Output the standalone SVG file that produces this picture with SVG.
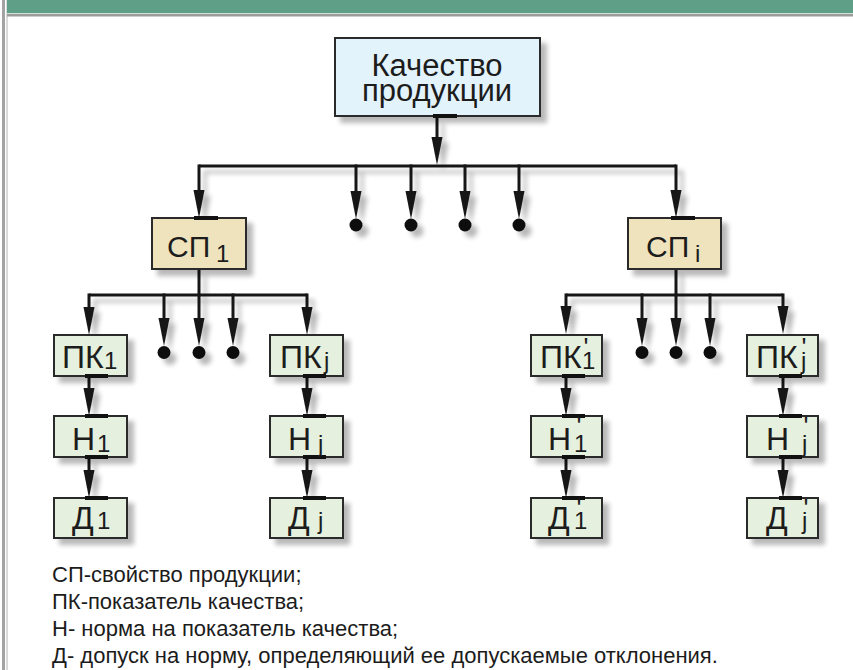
<svg xmlns="http://www.w3.org/2000/svg" width="853" height="670" viewBox="0 0 853 670">
<defs>
<style>
.t{font-family:"Liberation Sans","Noto Sans",Arial,sans-serif;fill:#1c1c1c}
.big{font-size:31px}
.bx{font-size:32px}
.sp{font-size:30px}
.sub{font-size:24px}
.pr{font-size:26px}
.leg{font-size:22px}
.blue{fill:#e3f3fb;stroke:#2b2b2b;stroke-width:2}
.beige{fill:#efe3bd;stroke:#2b2b2b;stroke-width:2}
.green{fill:#e5f1de;stroke:#2b2b2b;stroke-width:2}
.tab{fill:#111}
.ln{fill:none;stroke:#151515;stroke-width:3}
.arr{fill:none;stroke:#151515;stroke-width:3;marker-end:url(#ah)}
.dot{fill:#111}
</style>
<filter id="sh" filterUnits="userSpaceOnUse" x="0" y="0" width="853" height="670">
<feGaussianBlur in="SourceAlpha" stdDeviation="2.5"/>
<feOffset dx="6" dy="6"/>
<feComponentTransfer><feFuncA type="linear" slope="0.28"/></feComponentTransfer>
<feMerge><feMergeNode/><feMergeNode in="SourceGraphic"/></feMerge>
</filter>
<marker id="ah" markerUnits="userSpaceOnUse" markerWidth="28" markerHeight="12" viewBox="0 0 28 12" refX="8" refY="6" orient="auto">
<path d="M0,0.5 L28,6 L0,11.5 Z" fill="#151515"/>
</marker>
</defs>
<rect width="853" height="670" fill="#ffffff"/>
<g id="frame">
<rect x="2" y="0" width="3" height="670" fill="#a3a3a3"/>
<rect x="6.5" y="0" width="1" height="670" fill="#b5b5b5"/>
<rect x="7" y="0" width="846" height="13" fill="#5f9f88"/>
<rect x="7" y="13" width="846" height="1" fill="#d3e0da"/>
<rect x="7" y="14" width="846" height="2.5" fill="#9b9b9b"/>
</g>
<g id="connectors" filter="url(#sh)">
<path class="arr" d="M437,118 V145"/>
<path class="ln" d="M199,166 H676"/>
<path class="arr" d="M199,164.5 V198"/>
<path class="arr" d="M356,164.5 V199"/>
<path class="arr" d="M411,164.5 V199"/>
<path class="arr" d="M465,164.5 V199"/>
<path class="arr" d="M519,164.5 V199"/>
<path class="arr" d="M676,164.5 V198"/>
<circle class="dot" cx="356" cy="225" r="6.5"/>
<circle class="dot" cx="411" cy="225" r="6.5"/>
<circle class="dot" cx="465" cy="225" r="6.5"/>
<circle class="dot" cx="519" cy="225" r="6.5"/>
<path class="ln" d="M89,295 H307"/>
<path class="arr" d="M199,270 V326"/>
<path class="arr" d="M89,293.5 V315"/>
<path class="arr" d="M164,293.5 V326"/>
<path class="arr" d="M233,293.5 V326"/>
<path class="arr" d="M307,293.5 V315"/>
<circle class="dot" cx="164" cy="352.5" r="6.5"/>
<circle class="dot" cx="199" cy="352.5" r="6.5"/>
<circle class="dot" cx="233" cy="352.5" r="6.5"/>
<path class="ln" d="M566,295 H783"/>
<path class="arr" d="M676,269 V326"/>
<path class="arr" d="M566,293.5 V314"/>
<path class="arr" d="M642,293.5 V326"/>
<path class="arr" d="M710,293.5 V326"/>
<path class="arr" d="M783,293.5 V314"/>
<circle class="dot" cx="642" cy="352.5" r="6.5"/>
<circle class="dot" cx="676" cy="352.5" r="6.5"/>
<circle class="dot" cx="710" cy="352.5" r="6.5"/>
<path class="arr" d="M89,376 V396"/>
<path class="arr" d="M307,376 V396"/>
<path class="arr" d="M566,376 V396"/>
<path class="arr" d="M783,376 V396"/>
<path class="arr" d="M89,457 V478"/>
<path class="arr" d="M307,457 V478"/>
<path class="arr" d="M566,457 V478"/>
<path class="arr" d="M783,457 V478"/>
</g>
<g id="quality">
<rect class="blue" x="335" y="38" width="205" height="78" filter="url(#sh)"/>
<rect class="tab" x="433" y="114" width="24" height="4"/>
<text class="t big" x="437" y="76" text-anchor="middle">Качество</text>
<text class="t big" x="437" y="101" text-anchor="middle">продукции</text>
</g>
<g id="sp1">
<rect class="beige" x="152" y="218" width="94" height="51" filter="url(#sh)"/>
<rect class="tab" x="194" y="216" width="24" height="4"/>
<text class="t sp" y="257"><tspan x="167">СП</tspan><tspan class="sub" x="216" dy="5">1</tspan></text>
</g>
<g id="spi">
<rect class="beige" x="628" y="218" width="93" height="51" filter="url(#sh)"/>
<rect class="tab" x="671" y="216" width="24" height="4"/>
<text class="t sp" y="257"><tspan x="646">СП</tspan><tspan class="sub" x="695" dy="5">i</tspan></text>
</g>
<g id="pk1">
<rect class="green" x="54" y="335" width="73" height="41" filter="url(#sh)"/>
<rect class="tab" x="85" y="374" width="23" height="4"/>
<text class="t bx" y="368"><tspan x="62">ПК</tspan><tspan class="sub" x="104" dy="1">1</tspan></text>
</g>
<g id="pkj">
<rect class="green" x="270" y="335" width="73" height="41" filter="url(#sh)"/>
<rect class="tab" x="303" y="374" width="23" height="4"/>
<text class="t bx" y="368"><tspan x="280">ПК</tspan><tspan class="sub" x="324" dy="1">j</tspan></text>
</g>
<g id="pk1p">
<rect class="green" x="531" y="335" width="71" height="41" filter="url(#sh)"/>
<rect class="tab" x="562" y="374" width="23" height="4"/>
<text class="t bx" y="368"><tspan x="540">ПК</tspan><tspan class="sub" x="582" dy="1">1</tspan><tspan class="pr" x="583.5" dy="-13">'</tspan></text>
</g>
<g id="pkjp">
<rect class="green" x="747" y="335" width="71" height="41" filter="url(#sh)"/>
<rect class="tab" x="779" y="374" width="23" height="4"/>
<text class="t bx" y="368"><tspan x="756">ПК</tspan><tspan class="sub" x="801" dy="1">j</tspan><tspan class="pr" x="801.5" dy="-13">'</tspan></text>
</g>
<g id="n1">
<rect class="green" x="54" y="416" width="73" height="41" filter="url(#sh)"/>
<rect class="tab" x="85" y="414" width="23" height="4"/>
<rect class="tab" x="85" y="455" width="23" height="4"/>
<text class="t bx" y="450"><tspan x="72">Н</tspan><tspan class="sub" x="97" dy="2">1</tspan></text>
</g>
<g id="nj">
<rect class="green" x="270" y="416" width="73" height="41" filter="url(#sh)"/>
<rect class="tab" x="303" y="414" width="23" height="4"/>
<rect class="tab" x="303" y="455" width="23" height="4"/>
<text class="t bx" y="450"><tspan x="288">Н</tspan><tspan class="sub" x="318" dy="2">j</tspan></text>
</g>
<g id="n1p">
<rect class="green" x="531" y="416" width="71" height="41" filter="url(#sh)"/>
<rect class="tab" x="562" y="414" width="23" height="4"/>
<rect class="tab" x="562" y="455" width="23" height="4"/>
<text class="t bx" y="450"><tspan x="548">Н</tspan><tspan class="sub" x="574" dy="2">1</tspan><tspan class="pr" x="576.5" dy="-17">'</tspan></text>
</g>
<g id="njp">
<rect class="green" x="747" y="416" width="71" height="41" filter="url(#sh)"/>
<rect class="tab" x="779" y="414" width="23" height="4"/>
<rect class="tab" x="779" y="455" width="23" height="4"/>
<text class="t bx" y="450"><tspan x="766">Н</tspan><tspan class="sub" x="802" dy="2">j</tspan><tspan class="pr" x="803.5" dy="-17">'</tspan></text>
</g>
<g id="d1">
<rect class="green" x="54" y="498" width="73" height="40" filter="url(#sh)"/>
<rect class="tab" x="85" y="496" width="23" height="4"/>
<text class="t bx" y="529"><tspan x="72">Д</tspan><tspan class="sub" x="97">1</tspan></text>
</g>
<g id="dj">
<rect class="green" x="270" y="498" width="73" height="40" filter="url(#sh)"/>
<rect class="tab" x="303" y="496" width="23" height="4"/>
<text class="t bx" y="529"><tspan x="288">Д</tspan><tspan class="sub" x="318">j</tspan></text>
</g>
<g id="d1p">
<rect class="green" x="531" y="498" width="71" height="40" filter="url(#sh)"/>
<rect class="tab" x="562" y="496" width="23" height="4"/>
<text class="t bx" y="529"><tspan x="548">Д</tspan><tspan class="sub" x="574">1</tspan><tspan class="pr" x="576.5" dy="-12">'</tspan></text>
</g>
<g id="djp">
<rect class="green" x="747" y="498" width="71" height="40" filter="url(#sh)"/>
<rect class="tab" x="779" y="496" width="23" height="4"/>
<text class="t bx" y="529"><tspan x="766">Д</tspan><tspan class="sub" x="802">j</tspan><tspan class="pr" x="803.5" dy="-12">'</tspan></text>
</g>
<g id="legend">
<text class="t leg" x="52" y="582">СП-свойство продукции;</text>
<text class="t leg" x="52" y="609">ПК-показатель качества;</text>
<text class="t leg" x="52" y="636">Н- норма на показатель качества;</text>
<text class="t leg" x="52" y="663">Д- допуск на норму, определяющий ее допускаемые отклонения.</text>
</g>
</svg>
